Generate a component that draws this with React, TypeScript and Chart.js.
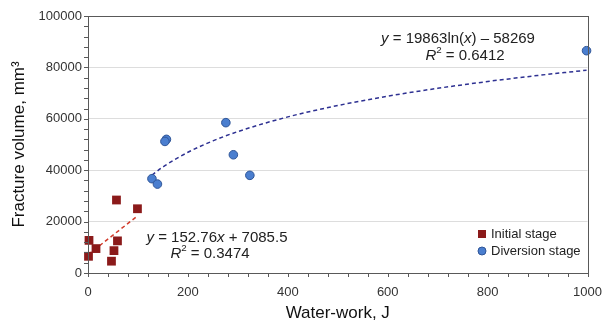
import React, { useEffect, useRef } from "react";
import { Chart, registerables } from "chart.js";

Chart.register(...registerables);

// Initial stage (red squares)
const initialX = [2, 1, 16, 57, 99, 59, 52, 47];
const initialY = [12700, 6500, 9500, 28400, 25000, 12500, 8700, 4600];

// Diversion stage (blue circles)
const diversionX = [128, 139, 157, 154, 276, 291, 324, 998];
const diversionY = [36700, 34600, 52000, 51200, 58500, 46000, 38000, 86500];

// Trend lines (following the printed fits)
const linTrendX = [1, 99];
const linTrendY = [7240, 22210];
const logTrendX = [128, 150, 200, 250, 300, 400, 500, 600, 700, 800, 900, 998];
const logTrendY = [38100, 41260, 46970, 51400, 55030, 60740, 65170, 68790, 71860, 74510, 76850, 78900];

const xTicks = [0, 200, 400, 600, 800, 1000];
const yTicks = [0, 20000, 40000, 60000, 80000, 100000];

const xTitle = "Water-work, J";
const yTitle = "Fracture volume, mm³";
const legendLabels = ["Initial stage", "Diversion stage"];

const FONT = "'Liberation Sans', Arial, sans-serif";
const RED = "#8B1A1A";
const BLUE = "#4A7ECF";
const BLUE_BORDER = "#2F5597";
const AXIS = "#595959";

type Seg = { t: string; i?: boolean; sup?: boolean };

function drawSegs(ctx: CanvasRenderingContext2D, segs: Seg[], cx: number, cy: number, size: number) {
  const fontOf = (s: Seg) =>
    `${s.i ? "italic " : ""}${s.sup ? size * 0.65 : size}px ${FONT}`;
  let w = 0;
  for (const s of segs) {
    ctx.font = fontOf(s);
    w += ctx.measureText(s.t).width;
  }
  let x = cx - w / 2;
  ctx.textBaseline = "middle";
  ctx.textAlign = "left";
  for (const s of segs) {
    ctx.font = fontOf(s);
    ctx.fillText(s.t, x, s.sup ? cy - size * 0.35 : cy);
    x += ctx.measureText(s.t).width;
  }
}

const overlay = {
  id: "overlay",
  afterDraw(chart: any) {
    const { ctx, chartArea: a, scales } = chart;
    const xs = scales.x;
    const ys = scales.y;
    ctx.save();
    // frame
    ctx.strokeStyle = AXIS;
    ctx.lineWidth = 1;
    ctx.strokeRect(Math.round(a.left) + 0.5, Math.round(a.top) + 0.5, Math.round(a.right - a.left), Math.round(a.bottom - a.top));
    // ticks
    ctx.beginPath();
    for (let v = 0; v <= 1000; v += 40) {
      const px = Math.round(xs.getPixelForValue(v)) + 0.5;
      ctx.moveTo(px, a.bottom);
      ctx.lineTo(px, a.bottom + 4);
    }
    for (let v = 0; v <= 100000; v += 4000) {
      const py = Math.round(ys.getPixelForValue(v)) + 0.5;
      ctx.moveTo(a.left - 4, py);
      ctx.lineTo(a.left, py);
    }
    ctx.stroke();

    // annotations
    ctx.fillStyle = "#222";
    drawSegs(ctx, [{ t: "y", i: true }, { t: " = 152.76" }, { t: "x", i: true }, { t: " + 7085.5" }], 217, 238, 15);
    drawSegs(ctx, [{ t: "R", i: true }, { t: "2", sup: true }, { t: " = 0.3474" }], 210, 254, 15);
    drawSegs(ctx, [{ t: "y", i: true }, { t: " = 19863ln(" }, { t: "x", i: true }, { t: ") – 58269" }], 458, 39, 15);
    drawSegs(ctx, [{ t: "R", i: true }, { t: "2", sup: true }, { t: " = 0.6412" }], 465, 56, 15);

    // legend
    ctx.font = `13px ${FONT}`;
    ctx.textAlign = "left";
    ctx.textBaseline = "middle";
    ctx.fillStyle = RED;
    ctx.fillRect(478, 230, 8, 8);
    ctx.beginPath();
    ctx.arc(482, 251, 4, 0, Math.PI * 2);
    ctx.fillStyle = BLUE;
    ctx.fill();
    ctx.strokeStyle = BLUE_BORDER;
    ctx.stroke();
    ctx.fillStyle = "#222";
    ctx.fillText(legendLabels[0], 491, 234);
    ctx.fillText(legendLabels[1], 491, 251);

    // axis titles
    ctx.font = `17px ${FONT}`;
    ctx.textAlign = "center";
    ctx.fillStyle = "#111";
    ctx.fillText(xTitle, (a.left + a.right) / 2, 313);
    ctx.save();
    ctx.translate(19, (a.top + a.bottom) / 2);
    ctx.rotate(-Math.PI / 2);
    ctx.fillText(yTitle, 0, 0);
    ctx.restore();
    ctx.restore();
  },
};

export default function App() {
  const ref = useRef<HTMLCanvasElement>(null);
  useEffect(() => {
    document.body.style.margin = "0";
    const toPts = (xs: number[], ys: number[]) => xs.map((x, i) => ({ x, y: ys[i] }));
    const chart = new Chart(ref.current!, {
      type: "scatter",
      data: {
        datasets: [
          {
            label: legendLabels[0],
            data: toPts(initialX, initialY),
            pointStyle: "rect",
            pointRadius: 6.2,
            backgroundColor: RED,
            borderColor: RED,
            borderWidth: 0,
            clip: false,
            order: 1,
          } as any,
          {
            label: legendLabels[1],
            data: toPts(diversionX, diversionY),
            pointStyle: "circle",
            pointRadius: 4.3,
            backgroundColor: BLUE,
            borderColor: BLUE_BORDER,
            borderWidth: 1,
            clip: false,
            order: 1,
          } as any,
          {
            label: "lin",
            data: toPts(linTrendX, linTrendY),
            showLine: true,
            pointRadius: 0,
            borderColor: "#D23A2A",
            borderWidth: 1.5,
            borderDash: [4, 3],
            order: 2,
          } as any,
          {
            label: "log",
            data: toPts(logTrendX, logTrendY),
            showLine: true,
            pointRadius: 0,
            borderColor: "#2E3192",
            borderWidth: 1.5,
            borderDash: [4, 3],
            cubicInterpolationMode: "monotone",
            order: 2,
          } as any,
        ],
      },
      options: {
        animation: false,
        responsive: false,
        layout: { padding: { top: 16, right: 16, left: 0, bottom: 0 } },
        plugins: { legend: { display: false }, tooltip: { enabled: false } },
        scales: {
          x: {
            type: "linear",
            min: 0,
            max: 1000,
            afterFit: (s: any) => { s.height = 56; },
            afterBuildTicks: (s: any) => { s.ticks = xTicks.map((v) => ({ value: v })); },
            ticks: { padding: 12, color: "#333", font: { size: 13, family: FONT }, callback: (v: any) => String(v) },
            grid: { display: false, drawTicks: false },
            border: { display: true, color: AXIS },
          },
          y: {
            min: 0,
            max: 100000,
            afterFit: (s: any) => { s.width = 88; },
            afterBuildTicks: (s: any) => { s.ticks = yTicks.map((v) => ({ value: v })); },
            ticks: { padding: 6, color: "#333", font: { size: 13, family: FONT }, callback: (v: any) => String(v) },
            grid: {
              drawTicks: false,
              color: (c: any) => (c.tick && (c.tick.value === 0 || c.tick.value === 100000) ? "rgba(0,0,0,0)" : "#DDDDDD"),
            },
            border: { display: true, color: AXIS },
          },
        },
      },
      plugins: [overlay],
    });
    return () => chart.destroy();
  }, []);
  return (
    <div style={{ width: 614, height: 329 }}>
      <canvas ref={ref} width={614} height={329} style={{ display: "block" }} />
    </div>
  );
}
